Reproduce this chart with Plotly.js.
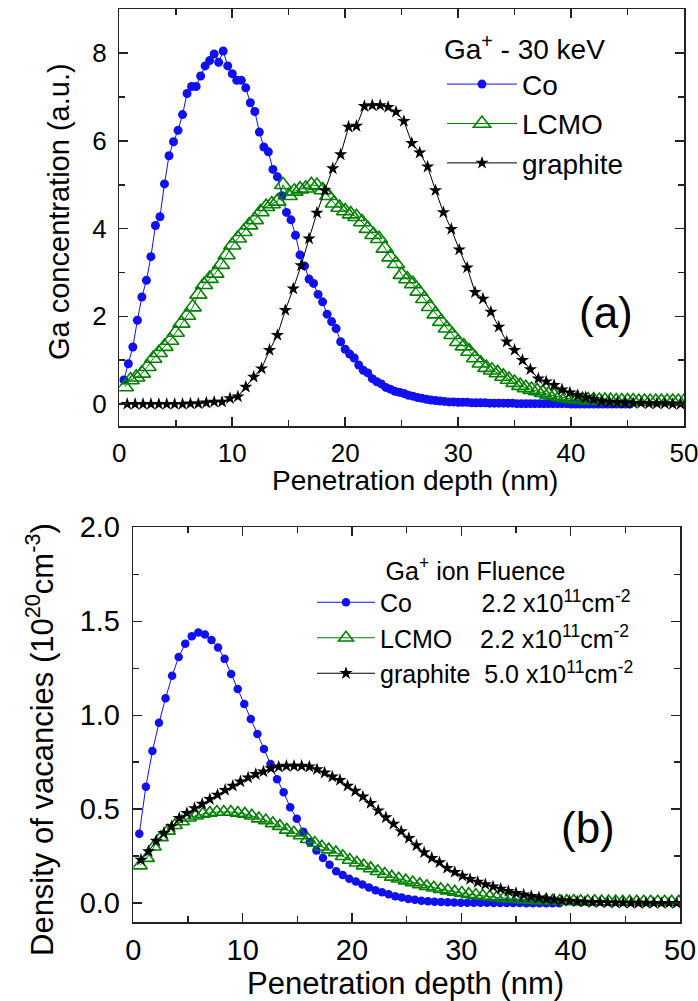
<!DOCTYPE html>
<html><head><meta charset="utf-8">
<script src="https://cdn.plot.ly/plotly-3.0.1.min.js"></script>
<style>html,body{margin:0;padding:0;background:#fff}#chart{width:698px;height:1001px}</style>
</head><body><div id="chart"></div>
<script>
// ---------- Panel (a): Ga concentration (a.u.) ----------
const coTopX = [0.4,0.8,1.2,1.6,2.0,2.4,2.8,3.2,3.6,4.0,4.4,4.8,5.2,5.6,6.0,6.4,6.8,7.2,7.6,8.0,8.4,8.8,9.2,9.6,10.0,10.4,10.8,11.2,11.6,12.0,12.4,12.8,13.2,13.6,14.0,14.4,14.8,15.2,15.6,16.0,16.4,16.8,17.2,17.6,18.0,18.4,18.8,19.2,19.6,20.0,20.4,20.8,21.2,21.6,22.0,22.4,22.8,23.2,23.6,24.0,24.4,24.8,25.2,25.6,26.0,26.4,26.8,27.2,27.6,28.0,28.4,28.8,29.2,29.6,30.0,30.4,30.8,31.2,31.6,32.0,32.4,32.8,33.2,33.6,34.0,34.4,34.8,35.2,35.6,36.0,36.4,36.8,37.2,37.6,38.0,38.4,38.8,39.2,39.6,40.0,40.4,40.8,41.2,41.6,42.0,42.4,42.8,43.2,43.6,44.0,44.4,44.8,45.2];
const coTopY = [0.55,0.92,1.30,1.91,2.44,2.82,3.36,4.07,4.27,5.02,5.66,5.98,6.24,6.60,7.08,7.24,7.24,7.48,7.71,7.83,7.98,7.79,8.05,7.71,7.53,7.38,7.38,7.21,6.87,6.67,6.20,5.86,5.75,5.35,5.18,4.75,4.37,4.20,3.85,3.40,3.15,2.85,2.75,2.50,2.33,2.05,1.88,1.72,1.42,1.25,1.14,1.05,0.89,0.77,0.71,0.58,0.51,0.46,0.38,0.34,0.29,0.27,0.24,0.20,0.18,0.15,0.13,0.11,0.09,0.08,0.07,0.06,0.05,0.05,0.04,0.04,0.04,0.03,0.03,0.03,0.03,0.02,0.02,0.02,0.02,0.02,0.02,0.01,0.01,0.01,0.01,0.01,0.01,0.01,0.01,0.01,0.01,0.01,0.01,0.00,0.00,0.00,0.00,0.00,0.00,0.00,0.00,0.00,0.00,0.00,0.00,0.00,0.00];

const lcmoTopX = [0.5,1.0,1.5,2.0,2.5,3.0,3.5,4.0,4.5,5.0,5.5,6.0,6.5,7.0,7.5,8.0,8.5,9.0,9.5,10.0,10.5,11.0,11.5,12.0,12.5,13.0,13.5,14.0,14.5,15.0,15.5,16.0,16.5,17.0,17.5,18.0,18.5,19.0,19.5,20.0,20.5,21.0,21.5,22.0,22.5,23.0,23.5,24.0,24.5,25.0,25.5,26.0,26.5,27.0,27.5,28.0,28.5,29.0,29.5,30.0,30.5,31.0,31.5,32.0,32.5,33.0,33.5,34.0,34.5,35.0,35.5,36.0,36.5,37.0,37.5,38.0,38.5,39.0,39.5,40.0,40.5,41.0,41.5,42.0,42.5,43.0,43.5,44.0,44.5,45.0,45.5,46.0,46.5,47.0,47.5,48.0,48.5,49.0,49.5,50.0];
const lcmoTopY = [0.39,0.55,0.61,0.70,0.85,1.04,1.17,1.31,1.45,1.63,1.84,2.02,2.21,2.50,2.72,2.86,2.98,3.18,3.40,3.62,3.78,3.93,4.08,4.20,4.38,4.50,4.56,4.62,5.00,4.75,4.85,4.90,4.92,5.00,4.98,4.88,4.75,4.58,4.48,4.40,4.33,4.27,4.15,4.00,3.86,3.77,3.55,3.35,3.20,2.95,2.85,2.74,2.57,2.40,2.22,2.05,1.88,1.73,1.58,1.42,1.32,1.20,1.05,0.93,0.83,0.77,0.71,0.63,0.56,0.49,0.42,0.37,0.33,0.30,0.26,0.22,0.19,0.16,0.14,0.12,0.11,0.10,0.09,0.09,0.08,0.08,0.08,0.07,0.07,0.07,0.07,0.06,0.06,0.06,0.06,0.06,0.06,0.06,0.06,0.06];

const graphiteTopX = [0.7,1.4,2.1,2.8,3.5,4.2,4.9,5.6,6.3,7.0,7.7,8.4,9.1,9.8,10.5,11.2,11.9,12.6,13.3,14.0,14.7,15.4,16.1,16.8,17.5,18.2,18.9,19.6,20.3,21.0,21.7,22.4,23.1,23.8,24.5,25.2,25.9,26.6,27.3,28.0,28.7,29.4,30.1,30.8,31.5,32.2,32.9,33.6,34.3,35.0,35.7,36.4,37.1,37.8,38.5,39.2,39.9,40.6,41.3,42.0,42.7,43.4,44.1,44.8,45.5,46.2,46.9,47.6,48.3,49.0,49.7];
const graphiteTopY = [0.00,0.00,0.00,0.00,0.00,0.00,0.00,0.00,0.01,0.01,0.03,0.05,0.05,0.13,0.17,0.39,0.62,0.81,1.23,1.57,2.14,2.63,3.16,3.77,4.36,4.87,5.37,5.69,6.32,6.34,6.79,6.81,6.81,6.77,6.66,6.45,5.95,5.73,5.41,4.87,4.37,3.99,3.52,3.11,2.55,2.40,2.10,1.76,1.42,1.23,1.00,0.79,0.58,0.51,0.43,0.33,0.26,0.20,0.15,0.11,0.07,0.05,0.04,0.03,0.02,0.02,0.01,0.01,0.01,0.00,0.00];

// ---------- Panel (b): Density of vacancies (10^20 cm^-3) ----------
const coBotX = [0.55,1.15,1.75,2.35,2.95,3.55,4.15,4.75,5.35,5.95,6.55,7.15,7.75,8.35,8.95,9.55,10.15,10.75,11.35,11.95,12.55,13.15,13.75,14.35,14.95,15.55,16.15,16.75,17.35,17.95,18.55,19.15,19.75,20.35,20.95,21.55,22.15,22.75,23.35,23.95,24.55,25.15,25.75,26.35,26.95,27.55,28.15,28.75,29.35,29.95,30.55,31.15,31.75,32.35,32.95,33.55,34.15,34.75,35.35,35.95,36.55,37.15,37.75,38.35,38.95];
const coBotY = [0.37,0.62,0.81,0.96,1.09,1.21,1.31,1.38,1.42,1.44,1.43,1.40,1.36,1.30,1.22,1.14,1.06,0.98,0.90,0.82,0.74,0.66,0.59,0.51,0.45,0.38,0.325,0.28,0.24,0.205,0.17,0.15,0.13,0.115,0.10,0.083,0.069,0.058,0.048,0.037,0.03,0.023,0.018,0.013,0.01,0.008,0.006,0.005,0.004,0.003,0.003,0.002,0.002,0.002,0.001,0.001,0.001,0.001,0.001,0.0,0.0,0.0,0.0,0.0,0.0];

const lcmoBotX = [0.6,1.24,1.88,2.52,3.16,3.8,4.44,5.08,5.72,6.36,7.0,7.64,8.28,8.92,9.56,10.2,10.84,11.48,12.12,12.76,13.4,14.04,14.68,15.32,15.96,16.6,17.24,17.88,18.52,19.16,19.8,20.44,21.08,21.72,22.36,23.0,23.64,24.28,24.92,25.56,26.2,26.84,27.48,28.12,28.76,29.4,30.04,30.68,31.32,31.96,32.6,33.24,33.88,34.52,35.16,35.8,36.44,37.08,37.72,38.36,39.0,39.64,40.28,40.92,41.56,42.2,42.84,43.48,44.12,44.76,45.4,46.04,46.68,47.32,47.96,48.6,49.24,49.88];
const lcmoBotY = [0.20,0.24,0.30,0.35,0.385,0.415,0.435,0.455,0.465,0.475,0.48,0.485,0.485,0.485,0.48,0.475,0.465,0.45,0.44,0.425,0.41,0.39,0.375,0.36,0.34,0.32,0.30,0.285,0.27,0.25,0.23,0.215,0.20,0.185,0.17,0.155,0.14,0.13,0.12,0.11,0.10,0.09,0.082,0.074,0.067,0.06,0.054,0.048,0.043,0.038,0.034,0.03,0.027,0.024,0.021,0.019,0.017,0.015,0.014,0.013,0.012,0.011,0.011,0.01,0.01,0.01,0.009,0.009,0.009,0.008,0.008,0.008,0.008,0.008,0.008,0.008,0.008,0.008];

const graphiteBotX = [0.7,1.4,2.1,2.8,3.5,4.2,4.9,5.6,6.3,7.0,7.7,8.4,9.1,9.8,10.5,11.2,11.9,12.6,13.3,14.0,14.7,15.4,16.1,16.8,17.5,18.2,18.9,19.6,20.3,21.0,21.7,22.4,23.1,23.8,24.5,25.2,25.9,26.6,27.3,28.0,28.7,29.4,30.1,30.8,31.5,32.2,32.9,33.6,34.3,35.0,35.7,36.4,37.1,37.8,38.5,39.2,39.9,40.6,41.3,42.0,42.7,43.4,44.1,44.8,45.5,46.2,46.9,47.6,48.3,49.0,49.7];
const graphiteBotY = [0.231,0.276,0.332,0.373,0.408,0.452,0.479,0.505,0.528,0.553,0.576,0.602,0.624,0.647,0.668,0.686,0.700,0.717,0.726,0.730,0.730,0.730,0.726,0.712,0.694,0.673,0.655,0.624,0.597,0.567,0.532,0.493,0.456,0.422,0.382,0.346,0.307,0.270,0.240,0.217,0.187,0.165,0.145,0.128,0.113,0.100,0.088,0.076,0.064,0.054,0.045,0.037,0.030,0.024,0.019,0.015,0.012,0.009,0.007,0.005,0.004,0.003,0.002,0.002,0.001,0.001,0.001,0.0,0.0,0.0,0.0];

// ---------- text ----------
const seriesNames = ['Co', 'LCMO', 'graphite'];
const NB = n => '\u00a0'.repeat(n);
const fluenceLabels = [
  'Co' + NB(10) + '2.2 x10<sup>11</sup>cm<sup>-2</sup>',
  'LCMO' + NB(4) + '2.2 x10<sup>11</sup>cm<sup>-2</sup>',
  'graphite' + NB(2) + '5.0 x10<sup>11</sup>cm<sup>-2</sup>'
];
const xTitle = 'Penetration depth (nm)';
const yTitleTop = 'Ga concentration (a.u.)';
const yTitleBot = 'Density of vacancies (10<sup>20</sup>cm<sup>-3</sup>)';
const legendTitleTop = 'Ga<sup>+</sup> - 30 keV';
const legendTitleBot = 'Ga<sup>+</sup> ion Fluence';

const FONT = 'Liberation Sans, Arial, Helvetica, sans-serif';
const W = 698, H = 1001;
const px = v => v / W;
const py = v => 1 - v / H;

const BLUE = '#1010f0', GREEN = '#008000', BLACK = '#000000';

function mk(x, y, name, ax, ay, leg, kind, panel) {
  const t = {x, y, name, xaxis: ax, yaxis: ay, legend: leg, mode: 'lines+markers', type: 'scatter', cliponaxis: true};
  if (kind === 'co') {
    t.line = {color: BLUE, width: 1};
    t.marker = {symbol: 'circle', size: panel === 'a' ? 9 : 8.5, color: BLUE};
  } else if (kind === 'lcmo') {
    t.line = {color: GREEN, width: 1};
    t.marker = {symbol: 'triangle-up-open', size: panel === 'a' ? 15 : 13, color: GREEN, line: {color: GREEN, width: 1.6}};
  } else {
    t.line = {color: BLACK, width: 1};
    t.marker = {symbol: 'star', size: 10, color: BLACK};
  }
  return t;
}

const data = [
  mk(coTopX, coTopY, seriesNames[0], 'x', 'y', 'legend', 'co', 'a'),
  mk(lcmoTopX, lcmoTopY, seriesNames[1], 'x', 'y', 'legend', 'lcmo', 'a'),
  mk(graphiteTopX, graphiteTopY, seriesNames[2], 'x', 'y', 'legend', 'gr', 'a'),
  mk(coBotX, coBotY, fluenceLabels[0], 'x2', 'y2', 'legend2', 'co', 'b'),
  mk(lcmoBotX, lcmoBotY, fluenceLabels[1], 'x2', 'y2', 'legend2', 'lcmo', 'b'),
  mk(graphiteBotX, graphiteBotY, fluenceLabels[2], 'x2', 'y2', 'legend2', 'gr', 'b')
];

const AX = '#222222';
function axis(o) {
  return Object.assign({
    showline: true, linecolor: AX, linewidth: 1.5, mirror: 'allticks',
    ticks: 'inside', ticklen: 9, tickwidth: 1.5, tickcolor: AX,
    showgrid: false, zeroline: false, automargin: false, fixedrange: true,
    ticklabeloverflow: 'allow'
  }, o);
}

const layout = {
  width: W, height: H,
  margin: {l: 0, r: 0, t: 0, b: 0},
  paper_bgcolor: '#fff', plot_bgcolor: '#fff',
  font: {family: FONT, color: '#000'},
  showlegend: true,
  xaxis: axis({domain: [px(119.3), px(684)], range: [0, 50], tick0: 0, dtick: 10, anchor: 'y',
    tickfont: {family: FONT, size: 26, color: '#000'}, ticklabelstandoff: 3,
    minor: {dtick: 5, ticks: 'inside', ticklen: 6, tickwidth: 1.5, tickcolor: AX, showgrid: false}}),
  yaxis: axis({domain: [py(426), py(9.3)], range: [-0.5, 9], tick0: 0, dtick: 2, anchor: 'x',
    tickfont: {family: FONT, size: 26, color: '#000'}, ticklabelstandoff: 6,
    minor: {dtick: 1, ticks: 'inside', ticklen: 6, tickwidth: 1.5, tickcolor: AX, showgrid: false}}),
  xaxis2: axis({domain: [px(133.3), px(680)], range: [0, 50], tick0: 0, dtick: 10, anchor: 'y2',
    tickfont: {family: FONT, size: 29, color: '#000'}, ticklabelstandoff: 2,
    minor: {dtick: 5, ticks: 'inside', ticklen: 6, tickwidth: 1.5, tickcolor: AX, showgrid: false}}),
  yaxis2: axis({domain: [py(922), py(527.3)], range: [-0.1, 2.0], tick0: 0, dtick: 0.5, tickformat: '.1f', anchor: 'x2',
    tickfont: {family: FONT, size: 29, color: '#000'}, ticklabelstandoff: 6,
    minor: {dtick: 0.25, ticks: 'inside', ticklen: 6, tickwidth: 1.5, tickcolor: AX, showgrid: false}}),
  legend: {
    x: px(442), y: py(23), xanchor: 'left', yanchor: 'top',
    bgcolor: 'rgba(0,0,0,0)', borderwidth: 0, itemwidth: 70, tracegroupgap: 0,
    font: {family: FONT, size: 28, color: '#000'},
    title: {text: legendTitleTop, side: 'top', font: {family: FONT, size: 28, color: '#000'}}
  },
  legend2: {
    x: px(312), y: py(547), xanchor: 'left', yanchor: 'top',
    bgcolor: 'rgba(0,0,0,0)', borderwidth: 0, itemwidth: 58, tracegroupgap: 0,
    font: {family: FONT, size: 25, color: '#000'},
    title: {text: legendTitleBot, side: 'top center', font: {family: FONT, size: 25, color: '#000'}}
  },
  annotations: [
    {text: xTitle, xref: 'paper', yref: 'paper', x: px(415), y: py(480), xanchor: 'center', yanchor: 'middle', showarrow: false, font: {family: FONT, size: 28, color: '#000'}},
    {text: xTitle, xref: 'paper', yref: 'paper', x: px(406), y: py(983), xanchor: 'center', yanchor: 'middle', showarrow: false, font: {family: FONT, size: 31, color: '#000'}},
    {text: yTitleTop, xref: 'paper', yref: 'paper', x: px(59), y: py(212), xanchor: 'center', yanchor: 'middle', textangle: -90, showarrow: false, font: {family: FONT, size: 29, color: '#000'}},
    {text: yTitleBot, xref: 'paper', yref: 'paper', x: px(40), y: py(740), xanchor: 'center', yanchor: 'middle', textangle: -90, showarrow: false, font: {family: FONT, size: 31, color: '#000'}},
    {text: '(a)', xref: 'paper', yref: 'paper', x: px(606), y: py(312), xanchor: 'center', yanchor: 'middle', showarrow: false, font: {family: FONT, size: 44, color: '#000'}},
    {text: '(b)', xref: 'paper', yref: 'paper', x: px(588), y: py(827), xanchor: 'center', yanchor: 'middle', showarrow: false, font: {family: FONT, size: 44, color: '#000'}}
  ]
};

Plotly.newPlot('chart', data, layout, {staticPlot: true, displayModeBar: false});
</script>
</body></html>
